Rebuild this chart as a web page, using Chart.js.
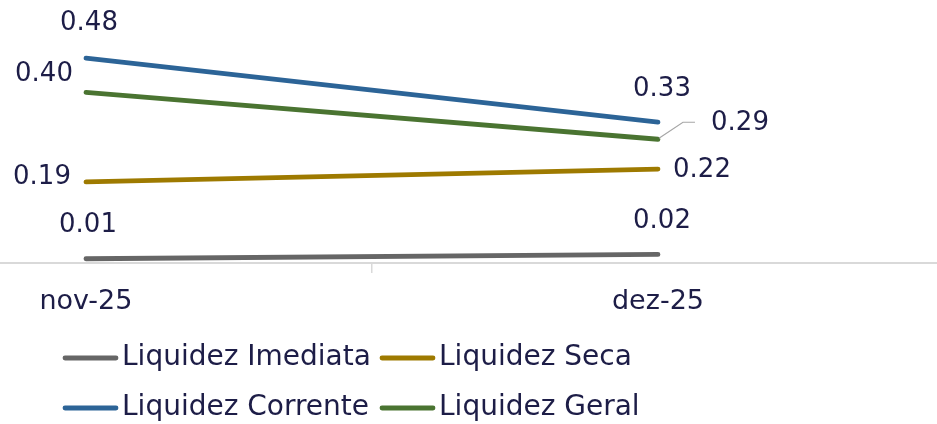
<!DOCTYPE html>
<html>
<head>
<meta charset="utf-8">
<title>Liquidez</title>
<script src="https://cdn.jsdelivr.net/npm/chart.js@4.4.1/dist/chart.umd.min.js"></script>
<style>
  html, body { margin: 0; padding: 0; background: #fff; }
  canvas { display: block; }
</style>
</head>
<body>
<canvas id="myChart" width="937" height="424"></canvas>
<script>
var months = ['nov-25', 'dez-25'];
var liq_imediata = [0.01, 0.02];
var liq_seca = [0.19, 0.22];
var liq_corrente = [0.48, 0.33];
var liq_geral = [0.40, 0.29];

var text_color = '#1d1d47';
var font_name = '"DejaVu Sans", sans-serif';

function make_points(values) {
  // x is the month index, so the linear x scale can be cropped like the original
  return values.map(function (v, i) { return { x: i, y: v }; });
}

function make_set(label, values, color, offsets, leader) {
  return {
    label: label,
    data: make_points(values),
    borderColor: color,
    backgroundColor: color,
    borderWidth: 4.8,
    borderCapStyle: 'round',
    pointRadius: 0,
    pointHoverRadius: 0,
    tension: 0,
    clip: false,
    labelOffsets: offsets,
    labelLeader: leader || null
  };
}

// value labels, drawn next to each point
var valueLabels = {
  id: 'valueLabels',
  afterDatasetsDraw: function (chart) {
    var ctx = chart.ctx;
    ctx.save();
    ctx.font = '26px ' + font_name;
    ctx.fillStyle = text_color;
    ctx.textAlign = 'center';
    ctx.textBaseline = 'middle';
    chart.data.datasets.forEach(function (ds, d) {
      var meta = chart.getDatasetMeta(d);
      meta.data.forEach(function (pt, i) {
        var off = ds.labelOffsets[i];
        if (ds.labelLeader && ds.labelLeader[i]) {
          var ld = ds.labelLeader[i];
          ctx.beginPath();
          ctx.strokeStyle = '#a6a6a6';
          ctx.lineWidth = 1.2;
          ctx.moveTo(pt.x + ld[0][0], pt.y + ld[0][1]);
          for (var k = 1; k < ld.length; k++) ctx.lineTo(pt.x + ld[k][0], pt.y + ld[k][1]);
          ctx.stroke();
        }
        ctx.fillText(ds.data[i].y.toFixed(2), pt.x + off[0], pt.y + off[1]);
      });
    });
    ctx.restore();
  }
};

// two column legend under the axis
var gridLegend = {
  id: 'gridLegend',
  afterDraw: function (chart) {
    var ctx = chart.ctx;
    var cols = [63, 380];
    var rows = [358, 408];
    ctx.save();
    ctx.font = '28px ' + font_name;
    ctx.textBaseline = 'middle';
    ctx.textAlign = 'left';
    chart.data.datasets.forEach(function (ds, i) {
      var x = cols[i % 2];
      var y = rows[Math.floor(i / 2)];
      ctx.beginPath();
      ctx.strokeStyle = ds.borderColor;
      ctx.lineWidth = 4.8;
      ctx.lineCap = 'round';
      ctx.moveTo(x + 2, y);
      ctx.lineTo(x + 53, y);
      ctx.stroke();
      ctx.fillStyle = text_color;
      ctx.fillText(ds.label, x + 59, y);
    });
    ctx.restore();
  }
};

var ctx = document.getElementById('myChart').getContext('2d');

var chart = new Chart(ctx, {
  type: 'line',
  data: {
    datasets: [
      make_set('Liquidez Imediata', liq_imediata, '#666666', [[2, -33], [4, -33]]),
      make_set('Liquidez Seca', liq_seca, '#9e7a00', [[-44, -5], [44, 1]]),
      make_set('Liquidez Corrente', liq_corrente, '#2c6497', [[3, -35], [4, -33]]),
      make_set('Liquidez Geral', liq_geral, '#4a7431', [[-42, -18], [82, -16]],
        [null, [[1, -1], [25, -17], [37, -17]]])
    ]
  },
  options: {
    responsive: false,
    animation: false,
    devicePixelRatio: 1,
    layout: { padding: { top: 7, bottom: 92.6, left: 0, right: 0 } },
    plugins: {
      legend: { display: false },
      tooltip: { enabled: false }
    },
    scales: {
      x: {
        type: 'linear',
        min: -0.1503,
        max: 1.4878,
        afterBuildTicks: function (scale) {
          scale.ticks = [{ value: 0 }, { value: 0.5 }, { value: 1 }];
        },
        border: { display: true, color: '#d9d9d9', width: 2 },
        grid: {
          drawOnChartArea: false,
          drawTicks: true,
          tickLength: 10,
          lineWidth: 1.5,
          color: function (c) {
            return c.tick && c.tick.value === 0.5 ? '#d9d9d9' : 'rgba(0,0,0,0)';
          }
        },
        ticks: {
          padding: 13,
          autoSkip: false,
          maxRotation: 0,
          color: text_color,
          font: { family: font_name, size: 27 },
          callback: function (v) {
            return Number.isInteger(v) ? months[v] : '';
          }
        }
      },
      y: {
        display: false,
        min: 0,
        max: 0.6
      }
    }
  },
  plugins: [valueLabels, gridLegend]
});
</script>
</body>
</html>
